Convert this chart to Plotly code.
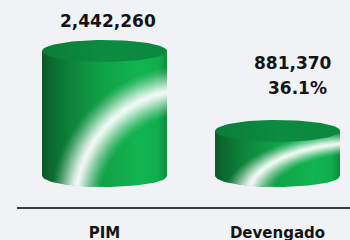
import numpy as np
import plotly.graph_objects as go

# ---------------- data ----------------
categories = ["PIM", "Devengado"]
values = [2442260, 881370]
value_labels = [f"{v:,}" for v in values]
pct_labels = ["", f"{values[1] / values[0] * 100:.1f}%"]

# ---------------- layout constants ----------------
W, H = 350, 240
ML, MR, MT, MB = 17, 0, 0, 33
PX_PER_X = 173.0          # pixels per category step
X0_PX = 104.5             # pixel column of first category
BASE_PX = 176.0           # pixel row of the zero baseline
UPP = max(values) / 125.0  # data units per pixel (vertical)

plot_w = W - ML - MR
plot_h = H - MT - MB
x_range = [(ML - X0_PX) / PX_PER_X, (ML + plot_w - X0_PX) / PX_PER_X]
y_range = [-(MT + plot_h - BASE_PX) * UPP, (BASE_PX - MT) * UPP]

RX = 62.5 / PX_PER_X      # cylinder half width (x units)
RY = 11.0 * UPP           # ellipse half height (y units)

BG = "#f0f2f5"
FONT = "DejaVu Sans"


def signed_area(poly):
    s = 0.0
    n = len(poly)
    for i in range(n):
        x1, y1 = poly[i]
        x2, y2 = poly[(i + 1) % n]
        s += x1 * y2 - x2 * y1
    return s


def clip_polygon(subject, clipper):
    sgn = 1.0 if signed_area(clipper) > 0 else -1.0

    def inside(p, a, b):
        return sgn * ((b[0] - a[0]) * (p[1] - a[1]) - (b[1] - a[1]) * (p[0] - a[0])) >= 0

    def inter(p, q, a, b):
        x1, y1 = p; x2, y2 = q; x3, y3 = a; x4, y4 = b
        den = (x1 - x2) * (y3 - y4) - (y1 - y2) * (x3 - x4)
        t = ((x1 - x3) * (y3 - y4) - (y1 - y3) * (x3 - x4)) / den
        return (x1 + t * (x2 - x1), y1 + t * (y2 - y1))

    out = list(subject)
    n = len(clipper)
    for i in range(n):
        a = clipper[i]
        b = clipper[(i + 1) % n]
        inp = out
        out = []
        if not inp:
            break
        s = inp[-1]
        for e in inp:
            if inside(e, a, b):
                if not inside(s, a, b):
                    out.append(inter(s, e, a, b))
                out.append(e)
            elif inside(s, a, b):
                out.append(inter(s, e, a, b))
            s = e
    return out


def poly_trace(poly, **kw):
    xs = [p[0] for p in poly] + [poly[0][0]]
    ys = [p[1] for p in poly] + [poly[0][1]]
    return go.Scatter(x=xs, y=ys, mode="lines", fill="toself", line=dict(width=0),
                      hoverinfo="skip", showlegend=False, **kw)


body_scale = [[0.0, "#09582a"], [0.07, "#0b6a30"], [0.25, "#0e863c"],
              [0.5, "#10a347"], [0.78, "#11b451"], [0.93, "#10ad4d"], [1.0, "#0c8c3f"]]
top_scale = [[0.0, "#0b7c38"], [0.5, "#0c8c40"], [1.0, "#0b883e"]]

# highlight arc, in normalised (u across width, v up the bounding box)
UC, VC, RU, RV = 1.39, -0.129, 1.864, 0.793
ARC_PX = 116.5
# soft glow: many thin layers, half-width (px) and opacity
glow_layers = [(hw, a) for hw, a in zip(np.linspace(24, 1.5, 15),
                                         [0.04, 0.05, 0.06, 0.07, 0.08, 0.09, 0.10, 0.12,
                                          0.14, 0.16, 0.19, 0.23, 0.28, 0.35, 0.45])]

fig = go.Figure()

for i, v in enumerate(values):
    cx = float(i)
    xl, xr = cx - RX, cx + RX
    t = np.linspace(0, 1, 60)
    bottom_arc = [(cx - RX + 2 * RX * tt, -RY * np.sqrt(max(0.0, 1 - (2 * tt - 1) ** 2))) for tt in t]
    body = [(xl, v)] + [(xl, 0.0)] + bottom_arc + [(xr, 0.0), (xr, v)]

    fig.add_trace(poly_trace(body, fillgradient=dict(type="horizontal", colorscale=body_scale)))

    # highlight streak
    ybot, ytop = -RY, v + RY
    th = np.radians(np.linspace(70, 200, 140))
    for half_w, alpha in glow_layers:
        k_out = 1 + half_w / ARC_PX
        k_in = 1 - half_w / ARC_PX

        def arc_pts(k):
            pts = []
            for a in th:
                u = UC + RU * k * np.cos(a)
                vv = VC + RV * k * np.sin(a)
                pts.append((cx + u * RX, ybot + vv * (ytop - ybot)))
            return pts

        band = arc_pts(k_out) + arc_pts(k_in)[::-1]
        clipped = clip_polygon(band, body)
        if len(clipped) > 2:
            fig.add_trace(poly_trace(clipped, fillcolor=f"rgba(255,255,255,{alpha:.3f})"))

    # top face
    tt = np.linspace(0, 2 * np.pi, 90)
    top = [(cx + RX * np.cos(a), v + RY * np.sin(a)) for a in tt]
    fig.add_trace(poly_trace(top, fillgradient=dict(type="horizontal", colorscale=top_scale)))

# value labels
label_font = dict(family=FONT, size=17, color="#141414", weight="bold")
fig.add_annotation(x=0, y=values[0], text=value_labels[0], showarrow=False,
                   xshift=3, yshift=30, font=label_font)
fig.add_annotation(x=1, y=values[1], text=value_labels[1], showarrow=False,
                   xshift=15, yshift=68, font=label_font)
fig.add_annotation(x=1, y=values[1], text=pct_labels[1], showarrow=False,
                   xshift=20, yshift=43, font=label_font)

fig.update_layout(
    width=W, height=H,
    margin=dict(l=ML, r=MR, t=MT, b=MB, autoexpand=False),
    paper_bgcolor=BG, plot_bgcolor=BG,
    xaxis=dict(range=x_range, tickvals=[0, 1], ticktext=categories, showgrid=False,
               zeroline=False, showline=True, linecolor="#3c3c3c", linewidth=2,
               ticks="", ticklabelstandoff=11, automargin=False,
               tickfont=dict(family=FONT, size=15, color="#141414", weight="bold"),
               fixedrange=True),
    yaxis=dict(range=y_range, visible=False, fixedrange=True, automargin=False),
    showlegend=False,
)

fig.write_html("out.html", config={"displayModeBar": False},
               post_script="document.body.style.margin='0';")
